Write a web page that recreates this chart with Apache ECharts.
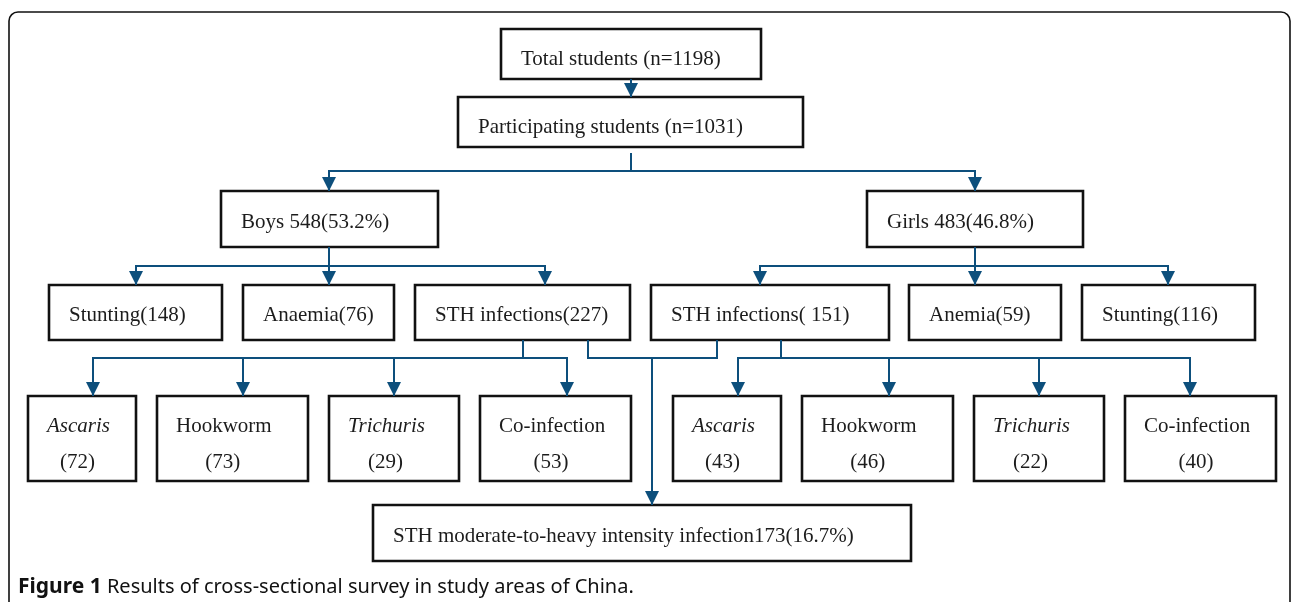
<!DOCTYPE html>
<html lang="en">
<head>
<meta charset="UTF-8">
<title>Results of cross-sectional survey</title>
<style>
    html, body { margin: 0; padding: 0; background: #fff; }
    #main { width: 1292px; height: 602px; }
</style>
</head>
<body>
<div id="main"></div>
<script src="https://cdn.jsdelivr.net/npm/echarts@6/dist/echarts.min.js"></script>
<script>
// text of every box, top to bottom, left to right
var boxLabels = [
    'Total students (n=1198)', 'Participating students (n=1031)',
    'Boys 548(53.2%)', 'Girls 483(46.8%)',
    'Stunting(148)', 'Anaemia(76)', 'STH infections(227)',
    'STH infections( 151)', 'Anemia(59)', 'Stunting(116)',
    'Ascaris', 'Hookworm', 'Trichuris', 'Co-infection',
    'Ascaris', 'Hookworm', 'Trichuris', 'Co-infection',
    'STH moderate-to-heavy intensity infection173(16.7%)'
];
// second line of the parasite boxes (null = single line box)
var boxCounts = [null, null, null, null, null, null, null, null, null, null,
    72, 73, 29, 53, 43, 46, 22, 40, null];
var italicNames = ['Ascaris', 'Trichuris'];

// box corners [x0, y0, x1, y1] in chart units (y down)
var boxRects = [
    [501, 29, 761, 79], [458, 97, 803, 147],
    [221, 191, 438, 247], [867, 191, 1083, 247],
    [49, 285, 222, 340], [243, 285, 394, 340], [415, 285, 630, 340],
    [651, 285, 889, 340], [909, 285, 1061, 340], [1082, 285, 1255, 340],
    [28, 396, 136, 481], [157, 396, 308, 481], [329, 396, 459, 481], [480, 396, 631, 481],
    [673, 396, 781, 481], [802, 396, 953, 481], [974, 396, 1104, 481], [1125, 396, 1276, 481],
    [373, 505, 911, 561]
];

// connector polylines, arrowhead at last point when linkArrow is 1
var links = [
    [[631, 79], [631, 97]],
    [[631, 153], [631, 171], [329, 171], [329, 191]],
    [[631, 171], [975, 171], [975, 191]],
    [[329, 247], [329, 266], [136, 266], [136, 285]],
    [[329, 266], [329, 285]],
    [[329, 266], [545, 266], [545, 285]],
    [[975, 247], [975, 266], [760, 266], [760, 285]],
    [[975, 266], [975, 285]],
    [[975, 266], [1168, 266], [1168, 285]],
    [[523, 340], [523, 358], [93, 358], [93, 396]],
    [[243, 358], [243, 396]],
    [[394, 358], [394, 396]],
    [[523, 358], [567, 358], [567, 396]],
    [[588, 340], [588, 358], [717, 358], [717, 340]],
    [[652, 358], [652, 505]],
    [[781, 340], [781, 358], [738, 358], [738, 396]],
    [[781, 358], [1190, 358], [1190, 396]],
    [[889, 358], [889, 396]],
    [[1039, 358], [1039, 396]]
];
var linkArrow = [1, 1, 1, 1, 1, 1, 1, 1, 1, 1, 1, 1, 1, 0, 1, 1, 1, 1, 1];

var lineColor = '#0d4f7c';
var textColor = '#1c1c1c';
var serif = '"Liberation Serif", "Times New Roman", serif';

var measureCtx = document.createElement('canvas').getContext('2d');
function textWidth(str, font) {
    measureCtx.font = font;
    return measureCtx.measureText(str).width;
}

function renderBox(params, api) {
    var i = params.dataIndex;
    var a = api.coord([api.value(0), api.value(1)]);
    var b = api.coord([api.value(2), api.value(3)]);
    var x = Math.min(a[0], b[0]), y = Math.min(a[1], b[1]);
    var w = Math.abs(b[0] - a[0]), h = Math.abs(b[1] - a[1]);
    var name = boxLabels[i];
    var font = (italicNames.indexOf(name) >= 0 ? 'italic ' : '') + '21px ' + serif;
    var kids = [{
        type: 'rect',
        shape: { x: x, y: y, width: w, height: h },
        style: { fill: '#fff', stroke: '#111', lineWidth: 2.6 }
    }];
    if (boxCounts[i] == null) {
        // the top two boxes sit their text a bit lower
        var dy = i < 2 ? 5 : 3;
        kids.push({
            type: 'text',
            style: { text: name, x: x + 20, y: y + h / 2 + dy, align: 'left', verticalAlign: 'middle', font: font, fill: textColor }
        });
    } else {
        var cx = x + 19 + textWidth(name, font) / 2;
        kids.push({
            type: 'text',
            style: { text: name, x: x + 19, y: y + 30, align: 'left', verticalAlign: 'middle', font: font, fill: textColor }
        });
        kids.push({
            type: 'text',
            style: { text: '(' + boxCounts[i] + ')', x: cx - 1, y: y + 66, align: 'center', verticalAlign: 'middle', font: '21px ' + serif, fill: textColor }
        });
    }
    return { type: 'group', children: kids };
}

function renderLink(params, api) {
    var i = params.dataIndex;
    var pts = links[i].map(function (p) { return api.coord(p); });
    var kids = [{
        type: 'polyline',
        shape: { points: pts },
        style: { stroke: lineColor, lineWidth: 2, fill: 'none' }
    }];
    if (linkArrow[i]) {
        var t = pts[pts.length - 1];
        kids.push({
            type: 'polygon',
            shape: { points: [[t[0], t[1]], [t[0] - 7, t[1] - 14], [t[0] + 7, t[1] - 14]] },
            style: { fill: lineColor }
        });
    }
    return { type: 'group', children: kids };
}

var myChart = echarts.init(document.getElementById('main'));
var option = {
    animation: false,
    backgroundColor: '#fff',
    graphic: [{
        type: 'rect',
        z: -10,
        shape: { x: 9, y: 12, width: 1281, height: 700, r: 9 },
        style: { fill: 'none', stroke: '#111', lineWidth: 1.6 }
    }],
    title: {
        left: 13,
        top: 572,
        text: '{b|Figure 1} Results of cross-sectional survey in study areas of China.',
        textStyle: {
            fontFamily: '"Noto Sans", sans-serif',
            fontSize: 20,
            fontWeight: 'normal',
            color: '#111',
            rich: {
                b: { fontFamily: '"Noto Sans", sans-serif', fontSize: 21, fontWeight: 'bold', color: '#111' }
            }
        }
    },
    grid: { left: 0, right: 0, top: 0, bottom: 0 },
    xAxis: { type: 'value', min: 0, max: 1292, show: false },
    yAxis: { type: 'value', min: 0, max: 602, inverse: true, show: false },
    series: [{
        type: 'custom',
        renderItem: renderBox,
        data: boxRects,
        z: 2
    }, {
        type: 'custom',
        renderItem: renderLink,
        data: links.map(function (l) { return [l[0][0], l[0][1]]; }),
        z: 3
    }]
};
myChart.setOption(option);
</script>
</body>
</html>
